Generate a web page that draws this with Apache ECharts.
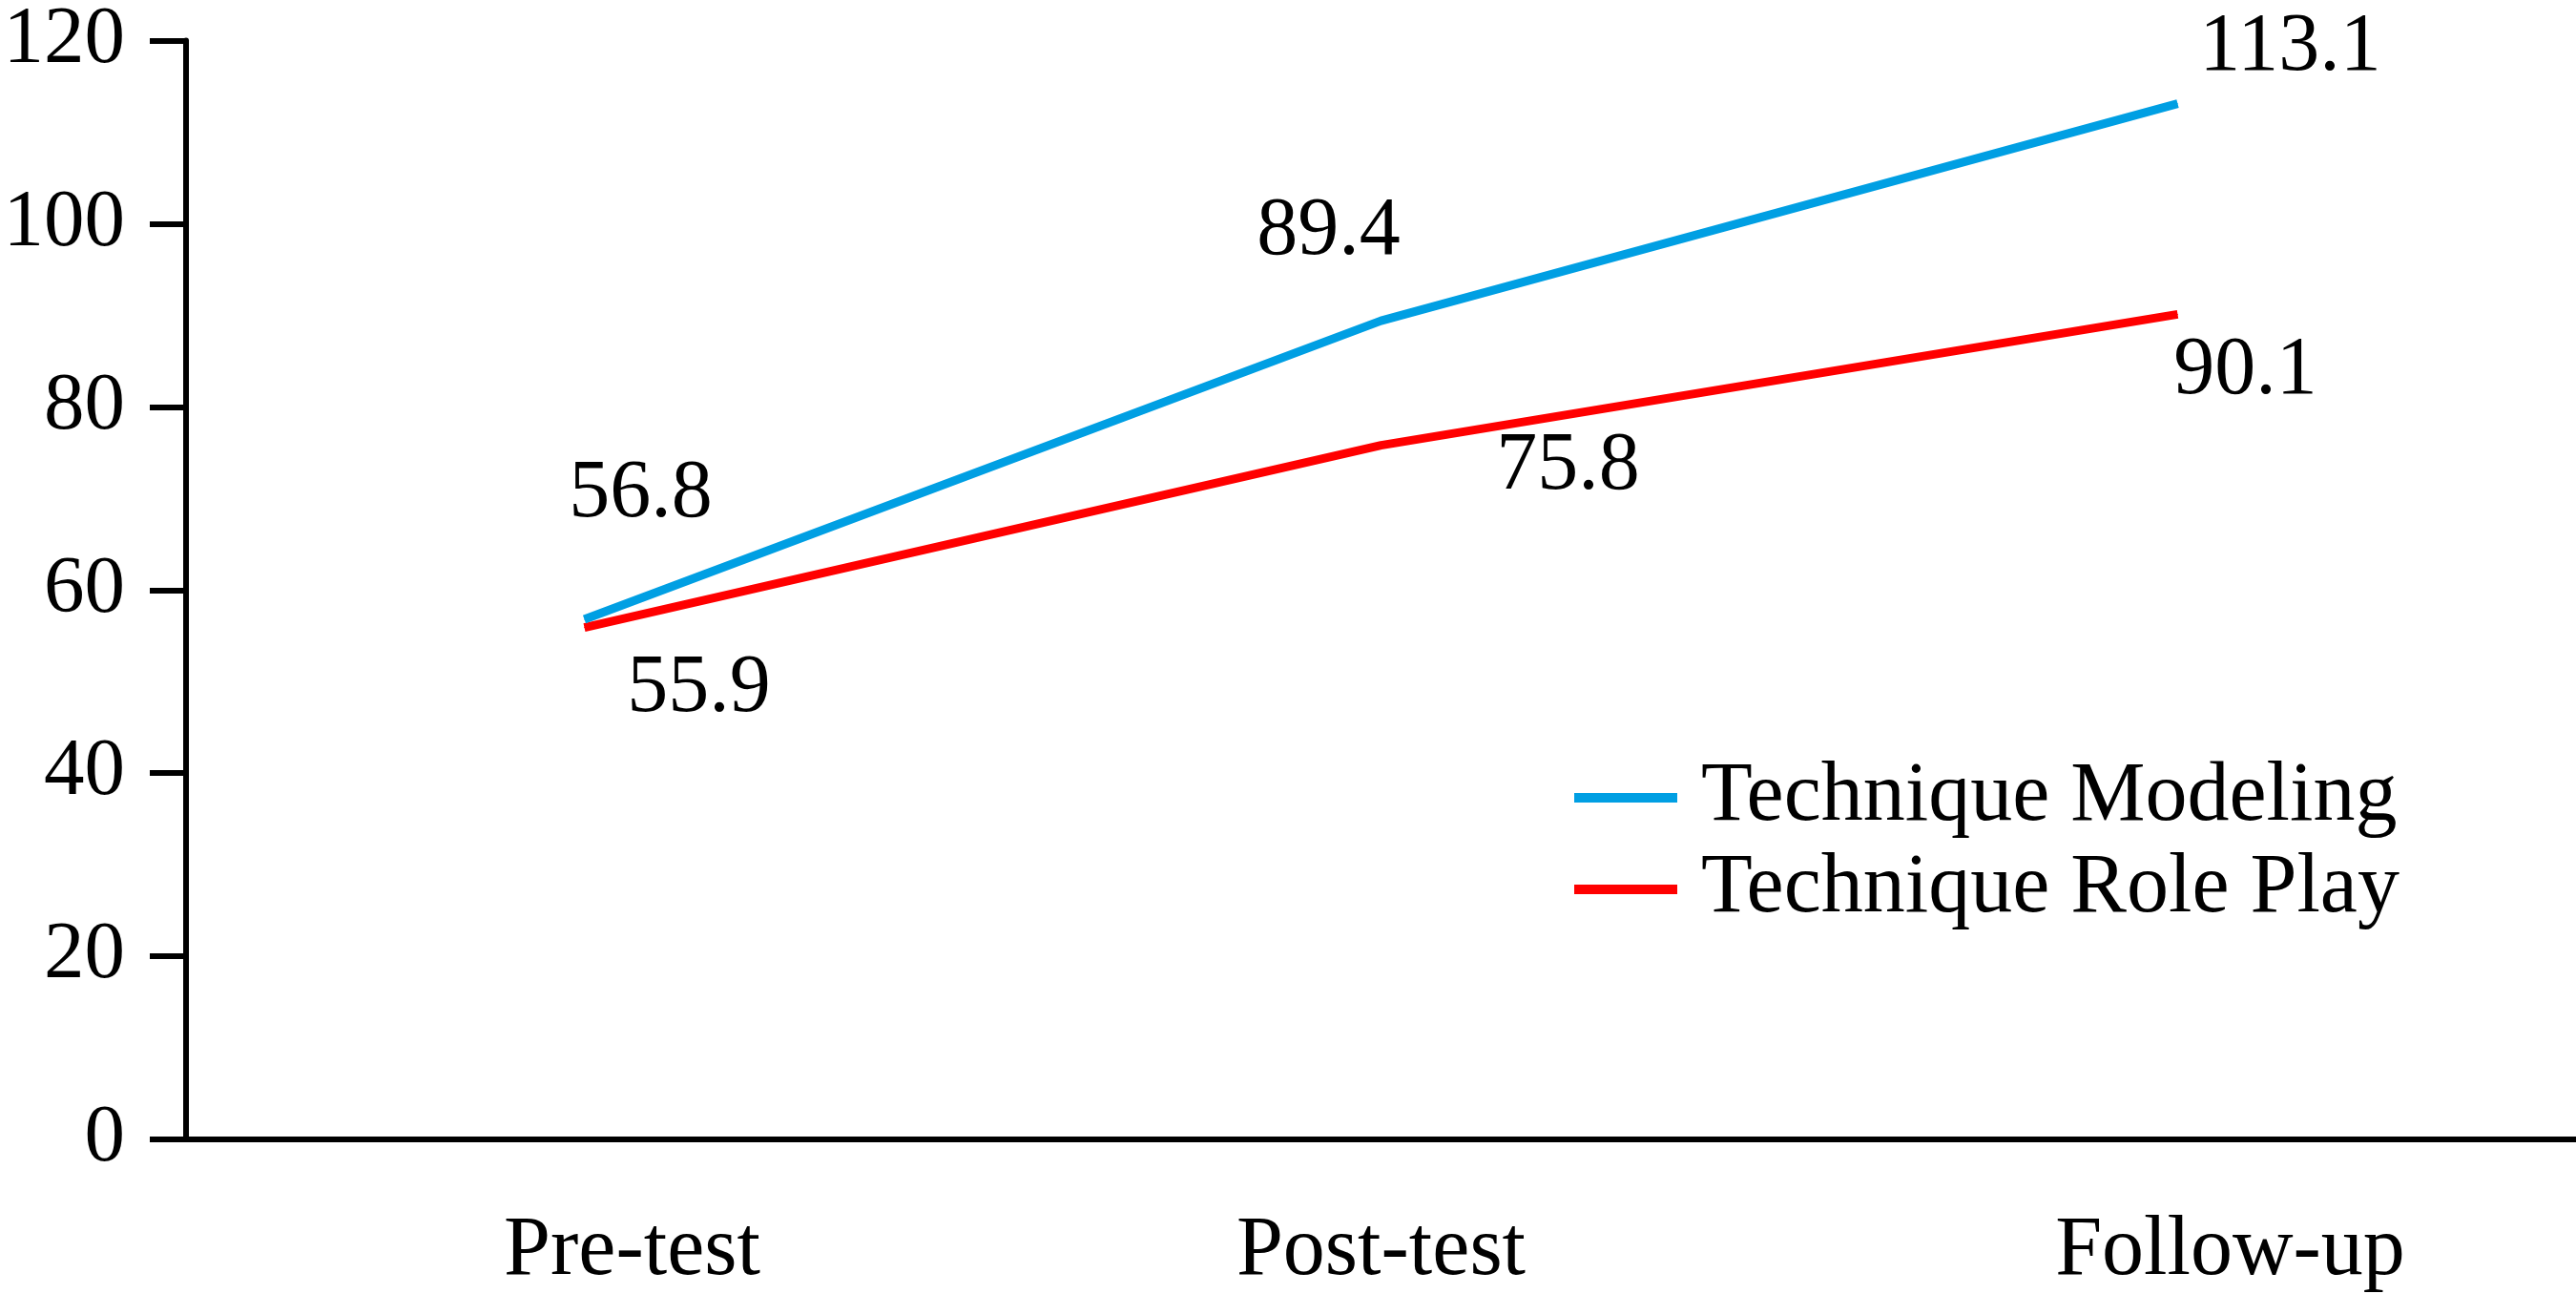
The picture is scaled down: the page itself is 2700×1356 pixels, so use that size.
<!DOCTYPE html>
<html>
<head>
<meta charset="utf-8">
<script src="https://cdn.jsdelivr.net/npm/echarts@6/dist/echarts.min.js"></script>
<style>
  html, body { margin: 0; padding: 0; background: #ffffff; }
  #chart { width: 2700px; height: 1356px; }
</style>
</head>
<body>
<div id="chart"></div>
<script>
// ---- data ----
const categories = ['Pre-test', 'Post-test', 'Follow-up'];
const seriesNames = ['Technique Modeling', 'Technique Role Play'];
const modelingValues = [56.8, 89.4, 113.1];
const rolePlayValues = [55.9, 75.8, 90.1];
const yTicks = [0, 20, 40, 60, 80, 100, 120];

// ---- styling (label placement relative to each point) ----
const modelingLabelOffsets = [[59, -131], [-55, -93], [118, -58]];
const rolePlayLabelOffsets = [[120, 65], [196, 23], [71, 60]];
const categoryLabelShift = [100, 0, 110];

const FONT = '"Liberation Serif", "DejaVu Serif", serif';

function buildData(values, offsets) {
  return values.map((v, i) => ({
    value: v,
    label: { offset: offsets[i] }
  }));
}

const chart = echarts.init(document.getElementById('chart'), null, { renderer: 'canvas' });

const labelStyle = {
  show: true,
  position: 'inside',
  color: '#000',
  fontFamily: FONT,
  fontSize: 86,
  formatter: p => p.value.toFixed(1)
};

const catFont = 88;

const option = {
  animation: false,
  backgroundColor: '#ffffff',
  grid: { left: 195, right: 0, top: 28, bottom: 162, containLabel: false },
  legend: {
    orient: 'vertical',
    left: 1650,
    top: 792,
    padding: 0,
    itemGap: 8,
    icon: 'rect',
    itemWidth: 108,
    itemHeight: 10,
    data: seriesNames,
    textStyle: {
      color: '#000',
      fontFamily: FONT,
      fontSize: 88,
      padding: [0, 0, 0, 20]
    }
  },
  xAxis: {
    type: 'category',
    data: categories,
    boundaryGap: true,
    axisLine: { show: true, lineStyle: { color: '#000', width: 6 } },
    axisTick: { show: false },
    axisLabel: {
      margin: 74,
      color: '#000',
      fontFamily: FONT,
      fontSize: catFont,
      formatter: (val, idx) => '{c' + idx + '|' + val + '}',
      rich: {
        c0: { fontFamily: FONT, fontSize: catFont, color: '#000', padding: [0, 0, 0, categoryLabelShift[0]] },
        c1: { fontFamily: FONT, fontSize: catFont, color: '#000', padding: [0, 0, 0, categoryLabelShift[1]] },
        c2: { fontFamily: FONT, fontSize: catFont, color: '#000', padding: [0, 0, 0, categoryLabelShift[2]] }
      }
    },
    splitLine: { show: false }
  },
  yAxis: {
    type: 'value',
    min: yTicks[0],
    max: yTicks[yTicks.length - 1],
    interval: yTicks[1] - yTicks[0],
    axisLine: { show: true, lineStyle: { color: '#000', width: 6 } },
    axisTick: { show: true, inside: false, length: 38, lineStyle: { color: '#000', width: 6 } },
    axisLabel: {
      margin: 64,
      color: '#000',
      fontFamily: FONT,
      fontSize: 85
    },
    splitLine: { show: false }
  },
  series: [
    {
      name: seriesNames[0],
      type: 'line',
      data: buildData(modelingValues, modelingLabelOffsets),
      symbol: 'circle',
      symbolSize: 1,
      showSymbol: true,
      lineStyle: { color: '#009FE3', width: 9 },
      itemStyle: { color: '#009FE3' },
      label: labelStyle,
      z: 3
    },
    {
      name: seriesNames[1],
      type: 'line',
      data: buildData(rolePlayValues, rolePlayLabelOffsets),
      symbol: 'circle',
      symbolSize: 1,
      showSymbol: true,
      lineStyle: { color: '#FF0000', width: 9 },
      itemStyle: { color: '#FF0000' },
      label: labelStyle,
      z: 2
    }
  ]
};

chart.setOption(option);
</script>
</body>
</html>
